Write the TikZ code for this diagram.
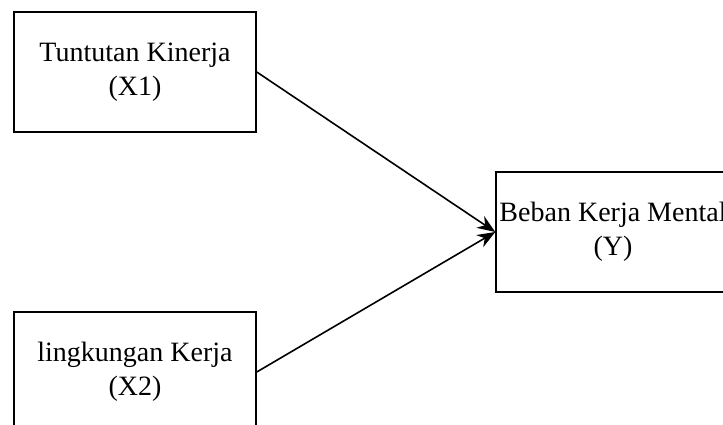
\documentclass[tikz,border=0pt]{standalone}
\usepackage{fontspec}
\setmainfont{Liberation Serif}
\usetikzlibrary{arrows.meta}
\begin{document}
\begin{tikzpicture}[x=1pt,y=-1pt,
  box/.style={draw=black, line width=1.5pt, minimum width=242pt, minimum height=120pt, inner sep=0pt, align=center, font=\fontsize{28}{34}\selectfont},
  conn/.style={line width=1.6pt, -{Stealth[length=18pt,width=14pt]}}]
\useasboundingbox (0,0) rectangle (723,425);
\clip (0,0) rectangle (723,425);
\fill[white] (0,0) rectangle (723,425);
\node[box] (x1) at (135,72) {Tuntutan Kinerja\\(X1)};
\node[box] (x2) at (135,372) {lingkungan Kerja\\(X2)};
\node[box, minimum width=234pt] (y) at (613,232) {Beban Kerja Mental\\(Y)};
\draw[conn] (x1.east) -- (y.west);
\draw[conn] (x2.east) -- (y.west);
\end{tikzpicture}
\end{document}
